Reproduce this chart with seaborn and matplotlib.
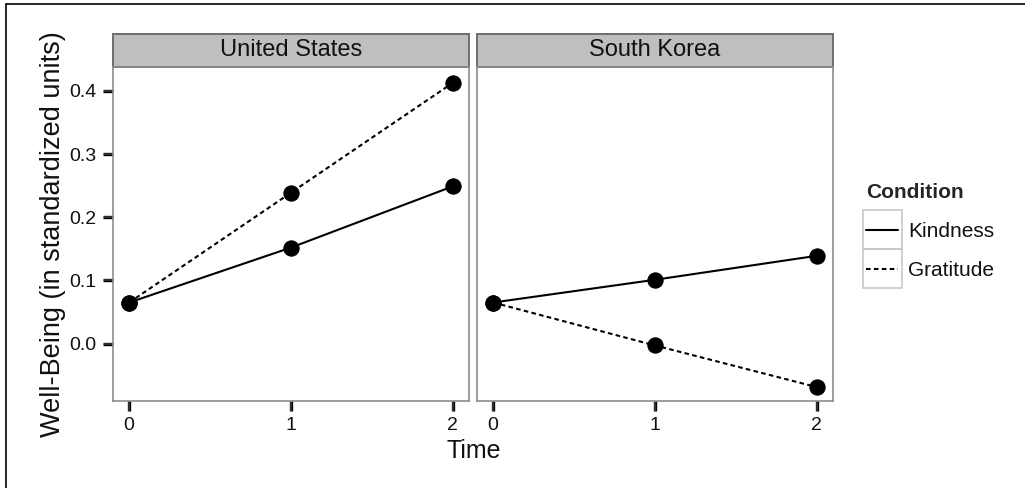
import numpy as np
import pandas as pd
import matplotlib
matplotlib.use("Agg")
import matplotlib.pyplot as plt
from matplotlib.lines import Line2D
from matplotlib.patches import Rectangle
from matplotlib.transforms import blended_transform_factory
import seaborn as sns

# values
countries = ["United States", "South Korea"]
conditions = ["Kindness", "Gratitude"]
time_points = [0, 1, 2]
us_kindness = [0.065, 0.152, 0.249]
us_gratitude = [0.065, 0.239, 0.413]
kr_kindness = [0.065, 0.101, 0.139]
kr_gratitude = [0.065, -0.003, -0.069]
y_ticks = [0.0, 0.1, 0.2, 0.3, 0.4]

series = {
    ("United States", "Kindness"): us_kindness,
    ("United States", "Gratitude"): us_gratitude,
    ("South Korea", "Kindness"): kr_kindness,
    ("South Korea", "Gratitude"): kr_gratitude,
}
rows = []
for (country, cond), vals in series.items():
    for t, v in zip(time_points, vals):
        rows.append({"Country": country, "Condition": cond, "Time": t, "WellBeing": v})
df = pd.DataFrame(rows)

sns.set_style("ticks")
plt.rcParams["font.family"] = ["Liberation Sans", "DejaVu Sans"]

W, H = 1025, 488
fig = plt.figure(figsize=(W / 100, H / 100), dpi=100)

# panel boxes in pixels (left, right) and shared top/bottom
panel_px = [(113, 469), (477, 833)]
top_px, bot_px = 67, 401
strip_px = 33
tick_px = 9.5

dash_map = {"Kindness": "", "Gratitude": (2.2, 1.6)}
for i, (country, (x0, x1)) in enumerate(zip(countries, panel_px)):
    ax = fig.add_axes([x0 / W, 1 - bot_px / H, (x1 - x0) / W, (bot_px - top_px) / H])
    sub = df[df["Country"] == country]
    sns.lineplot(data=sub, x="Time", y="WellBeing", style="Condition",
                 style_order=conditions, dashes=dash_map,
                 markers={"Kindness": "o", "Gratitude": "o"},
                 color="black", linewidth=1.5, markersize=11,
                 markeredgecolor="black", legend=False, ax=ax)
    ax.set_xlim(-0.1, 2.1)
    ax.set_ylim(-0.091, 0.438)
    ax.set_xticks(time_points)
    ax.set_yticks(y_ticks)
    ax.set_yticklabels([f"{v:.1f}" for v in y_ticks])
    ax.tick_params(axis="both", length=7, width=2.4, color="black",
                   labelsize=14, labelcolor="#111111")
    ax.tick_params(axis="x", pad=4.5)
    ax.tick_params(axis="y", pad=5)
    if i == 1:
        ax.tick_params(axis="y", left=False, labelleft=False)

    # tick marks drawn as lines too, so they show up in any case
    pw, ph = x1 - x0, bot_px - top_px
    tx = blended_transform_factory(ax.transData, ax.transAxes)
    for xt in ax.get_xticks():
        ax.add_line(Line2D([xt, xt], [0, -tick_px / ph], transform=tx, clip_on=False,
                           color="#333333", lw=1.3, solid_capstyle="butt"))
    if i == 0:
        ty = blended_transform_factory(ax.transAxes, ax.transData)
        for yt in ax.get_yticks():
            ax.add_line(Line2D([0, -tick_px / pw], [yt, yt], transform=ty,
                               clip_on=False, color="#333333", lw=1.3,
                               solid_capstyle="butt"))

    for s in ax.spines.values():
        s.set_visible(True)
        s.set_color("#8c8c8c")
        s.set_linewidth(1.2)
    ax.set_xlabel("")
    if i == 0:
        ax.set_ylabel("Well-Being (in standardized units)", fontsize=19.5,
                      labelpad=2.5, color="#111111")
    else:
        ax.set_ylabel("")
    # facet strip
    sh = strip_px / ph
    ax.add_patch(Rectangle((0, 1), 1, sh, transform=ax.transAxes, clip_on=False,
                           facecolor="#bfbfbf", edgecolor="#6e6e6e", linewidth=1.4))
    ax.text(0.5, 1 + sh / 2, country, transform=ax.transAxes, ha="center",
            va="center", fontsize=17, color="#111111")
    ax.set_xlim(-0.1, 2.1)
    ax.set_ylim(-0.091, 0.438)

fig.text(474 / W, 1 - 451 / H, "Time", ha="center", va="center", fontsize=18,
         color="#111111")

handles = [Line2D([], [], color="black", lw=1.5, ls="-"),
           Line2D([], [], color="black", lw=1.5, ls=(0, (2.2, 1.6)))]
leg = fig.legend(handles, conditions, title="Condition", loc="upper left",
                 bbox_to_anchor=(866 / W, 1 - 183 / H), frameon=False,
                 fontsize=15, title_fontproperties={"weight": "bold", "size": 15},
                 handlelength=1.55, handletextpad=0.48, labelspacing=0.96,
                 borderpad=0, borderaxespad=0, alignment="left")
for t in leg.get_texts():
    t.set_color("#111111")

# light boxes round the legend keys
fig.canvas.draw()
for ln in leg.get_lines():
    bb = ln.get_window_extent()
    cx, cy = (bb.x0 + bb.x1) / 2, (bb.y0 + bb.y1) / 2
    bw, bh = 39, 38.6
    fig.add_artist(Rectangle(((cx - bw / 2) / W, (cy - bh / 2) / H), bw / W, bh / H,
                             transform=fig.transFigure, facecolor="none",
                             edgecolor="#c8c8c8", linewidth=1.2))

# outer frame (top and left edges)
fig.add_artist(Line2D([6 / W, 1], [1 - 4 / H, 1 - 4 / H], transform=fig.transFigure,
                      color="black", lw=1.2))
fig.add_artist(Line2D([6 / W, 6 / W], [0, 1 - 4 / H], transform=fig.transFigure,
                      color="black", lw=1.2))

fig.savefig("out.png", dpi=100)
